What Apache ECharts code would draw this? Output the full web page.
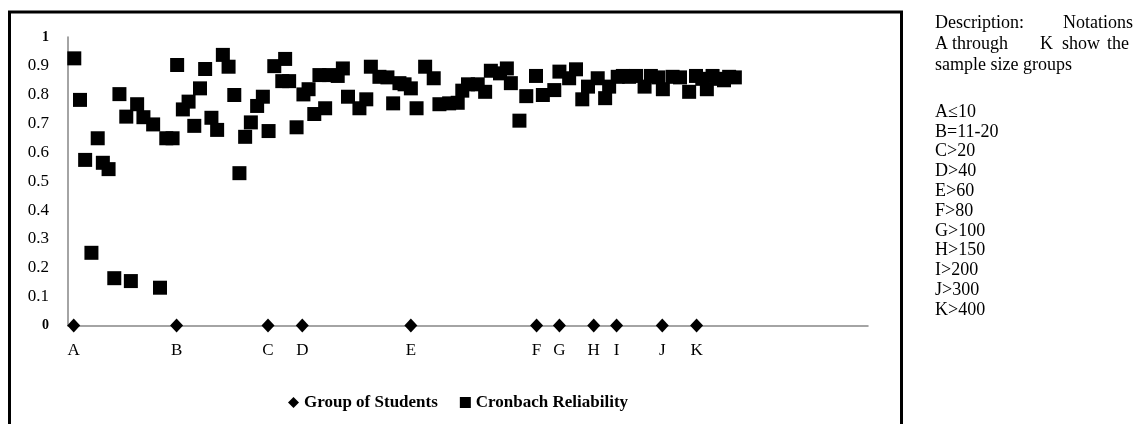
<!DOCTYPE html>
<html>
<head>
<meta charset="utf-8">
<script src="https://cdn.jsdelivr.net/npm/echarts@6/dist/echarts.min.js"></script>
<style>
html,body{margin:0;padding:0;background:#fff;}
#chart{width:1137px;height:424px;}
</style>
</head>
<body>
<div id="chart"></div>
<script>
// ---- data ----
const groupLabels = ['A','B','C','D','E','F','G','H','I','J','K'];
const groupPositions = [1,19,35,41,60,82,86,92,96,104,110];
const groupValues = [0,0,0,0,0,0,0,0,0,0,0];

const studyPositions = [1.1,2.1,3.0,4.1,5.2,6.1,7.1,8.1,9.0,10.2,11.0,12.1,13.2,14.9,16.1,17.2,18.3,
  19.1,20.1,21.1,22.1,23.1,24.0,25.1,26.1,27.1,28.1,29.1,30.0,31.0,32.0,33.1,34.1,35.1,36.1,37.5,38.0,38.7,
  40.0,41.2,42.1,43.1,44.0,45.0,45.7,47.2,48.1,49.0,51.0,52.2,53.0,54.5,55.9,56.9,58.0,58.9,
  60.0,61.0,62.5,64.0,65.0,66.7,68.2,69.0,70.0,71.7,73.0,74.0,75.6,76.8,77.5,79.0,80.2,81.9,
  83.1,85.1,86.0,87.7,88.9,90.0,91.0,92.7,94.0,94.7,96.2,97.1,98.2,99.4,100.9,102.0,103.3,104.1,
  105.8,107.1,108.7,109.9,111.0,111.8,112.8,113.9,114.8,115.7,116.7];
const reliability = [0.926,0.782,0.574,0.252,0.649,0.564,0.542,0.164,0.802,0.724,0.154,0.767,0.722,0.697,0.131,0.649,0.649,
  0.903,0.749,0.776,0.692,0.822,0.889,0.720,0.678,0.938,0.897,0.799,0.528,0.654,0.704,0.761,0.793,0.674,0.899,0.847,0.924,0.847,
  0.687,0.801,0.819,0.733,0.868,0.753,0.868,0.865,0.891,0.793,0.753,0.784,0.897,0.862,0.860,0.770,0.840,0.836,
  0.822,0.753,0.897,0.857,0.767,0.770,0.772,0.814,0.836,0.836,0.810,0.883,0.874,0.891,0.840,0.710,0.795,0.865,
  0.799,0.816,0.880,0.857,0.888,0.784,0.828,0.857,0.788,0.828,0.862,0.865,0.862,0.865,0.828,0.865,0.860,0.819,
  0.862,0.860,0.810,0.865,0.855,0.819,0.865,0.855,0.850,0.862,0.860];

const descriptionWords1 = ['Description:','Notations'];
const descriptionWords2 = ['A','through','K','show','the'];
const descriptionLine3 = 'sample size groups';
const notations = ['A\u226410','B=11-20','C>20','D>40','E>60','F>80','G>100','H>150','I>200','J>300','K>400'];

// ---- chart ----
const serif = "'Liberation Serif','Times New Roman',serif";
const chart = echarts.init(document.getElementById('chart'), null, {renderer:'canvas'});

const groupData = groupPositions.map((x,i)=>({value:[x, groupValues[i]], name:groupLabels[i]}));
const relData = studyPositions.map((x,i)=>[x, reliability[i]]);

const graphics = [
  {type:'rect', shape:{x:9.5, y:12, width:892, height:440}, style:{fill:'none', stroke:'#000', lineWidth:3}, silent:true}
];
const textStyle = (t,x,y,align)=>({type:'text', x:x, y:y, style:{text:t, font:'18px '+serif, fill:'#000', textAlign:align||'left', textVerticalAlign:'middle'}});
graphics.push(textStyle(descriptionWords1[0], 935, 23));
graphics.push(textStyle(descriptionWords1[1], 1133, 23, 'right'));
const w2x = [935, 952, 1040, 1062, 1107];
descriptionWords2.forEach((w,i)=>graphics.push(textStyle(w, w2x[i], 44)));
graphics.push(textStyle(descriptionLine3, 935, 65));
notations.forEach((t,i)=>graphics.push(textStyle(t, 935, 112 + i*19.8)));

chart.setOption({
  animation:false,
  backgroundColor:'#fff',
  grid:{left:68, right:269, top:37, bottom:98.5, containLabel:false},
  legend:{
    top:389, left:283, itemGap:22, itemWidth:11, itemHeight:11,
    textStyle:{fontFamily:serif, fontWeight:'bold', fontSize:17, color:'#000'},
    data:[{name:'Group of Students', icon:'diamond', itemStyle:{color:'#000', opacity:1}},
          {name:'Cronbach Reliability', icon:'rect', itemStyle:{color:'#000', opacity:1}}]
  },
  xAxis:{
    type:'value', min:0, max:140,
    axisLine:{show:true, lineStyle:{color:'#868686', width:1.5}},
    axisTick:{show:false}, axisLabel:{show:false}, splitLine:{show:false}
  },
  yAxis:{
    type:'value', min:0, max:1, interval:0.1,
    axisLine:{show:true, lineStyle:{color:'#868686', width:1.5}},
    axisTick:{show:false}, splitLine:{show:false},
    axisLabel:{
      margin:19, fontFamily:serif, fontSize:17, color:'#000',
      formatter:function(v){
        if (v===0 || v===1) return '{b|'+v+'}';
        return v.toFixed(1);
      },
      rich:{b:{fontFamily:serif, fontWeight:'bold', fontSize:14, color:'#000'}}
    }
  },
  series:[
    {
      name:'Group of Students', type:'scatter', symbol:'diamond', symbolSize:[13,14],
      itemStyle:{color:'#000', opacity:1}, z:5,
      label:{show:true, position:'bottom', distance:10, formatter:'{b}', fontFamily:serif, fontSize:17, color:'#000'},
      data:groupData
    },
    {
      name:'Cronbach Reliability', type:'scatter', symbol:'rect', symbolSize:14,
      itemStyle:{color:'#000', opacity:1},
      data:relData
    }
  ],
  graphic:graphics
});
</script>
</body>
</html>
